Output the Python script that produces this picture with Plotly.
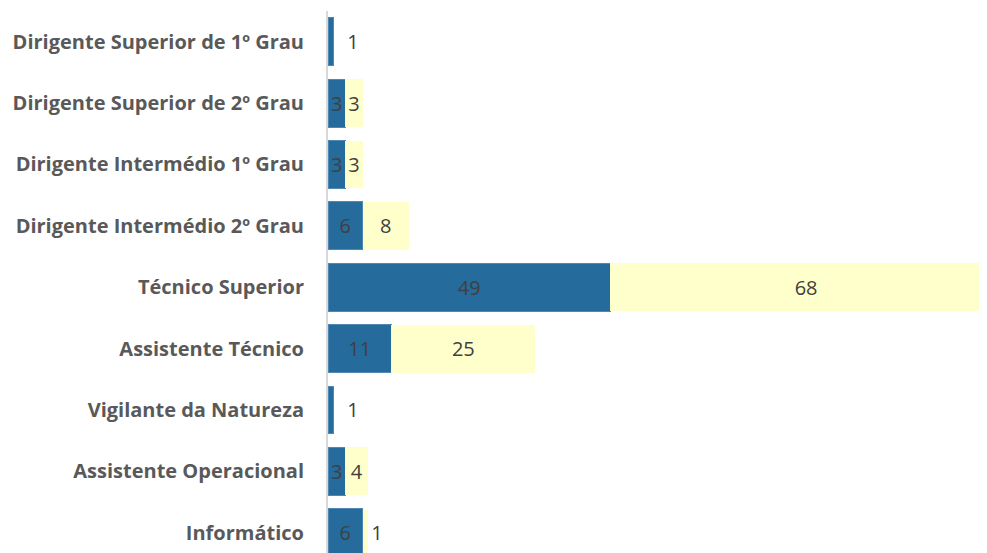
import plotly.graph_objects as go

categories = [
    "Dirigente Superior de 1º Grau",
    "Dirigente Superior de 2º Grau",
    "Dirigente Intermédio 1º Grau",
    "Dirigente Intermédio 2º Grau",
    "Técnico Superior",
    "Assistente Técnico",
    "Vigilante da Natureza",
    "Assistente Operacional",
    "Informático",
]
serie_a = [1, 3, 3, 6, 49, 11, 1, 3, 6]
serie_b = [None, 3, 3, 8, 68, 25, None, 4, 1]

label_font = dict(family="Open Sans", size=20, color="#404040")

fig = go.Figure()
fig.add_trace(
    go.Bar(
        y=categories,
        x=serie_a,
        orientation="h",
        name="A",
        marker=dict(color="#256B9C", line=dict(width=1, color="#4F88B5")),
        # single thin bars get their label pushed a bit to the right
        text=["\u00a0\u00a0" + str(v) if v == 1 else str(v) for v in serie_a],
        textposition=["outside" if v == 1 else "inside" for v in serie_a],
        insidetextanchor="middle",
        constraintext="none",
        textfont=label_font,
        outsidetextfont=label_font,
    )
)
fig.add_trace(
    go.Bar(
        y=categories,
        x=serie_b,
        orientation="h",
        name="B",
        marker=dict(color="#FFFFCC", line=dict(width=0)),
        text=["" if v is None else str(v) for v in serie_b],
        textposition=["outside" if v == 1 else "inside" for v in serie_b],
        insidetextanchor="middle",
        constraintext="none",
        textfont=label_font,
        outsidetextfont=label_font,
    )
)

fig.update_layout(
    barmode="stack",
    bargap=0.22,
    width=979,
    height=545,
    margin=dict(l=320, r=0, t=3, b=0, autoexpand=False),
    plot_bgcolor="white",
    paper_bgcolor="white",
    showlegend=False,
    xaxis=dict(range=[0, 114.4], visible=False),
    yaxis=dict(
        range=[8.33, -0.5],
        showline=True,
        linecolor="#D9D9D9",
        linewidth=2,
        showgrid=False,
        ticks="",
        ticklabelstandoff=18,
        tickfont=dict(family="Open Sans", size=20, color="#595959", weight="bold"),
    ),
)

fig.write_html("out.html")
